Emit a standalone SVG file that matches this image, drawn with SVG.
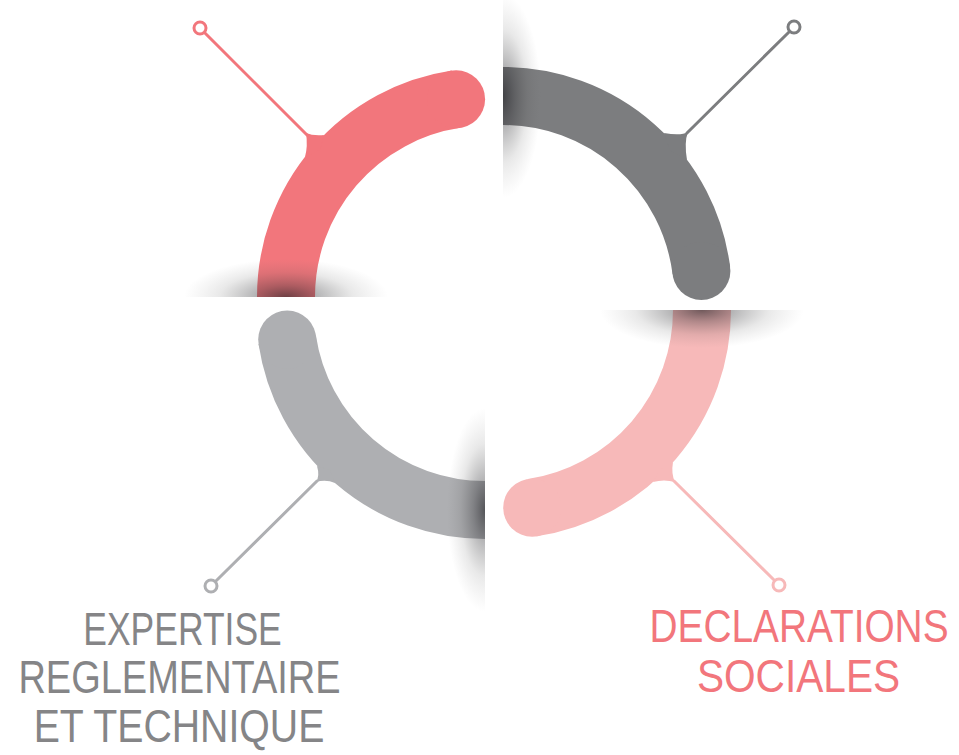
<svg xmlns="http://www.w3.org/2000/svg" width="959" height="755" viewBox="0 0 959 755">
  <defs>
    <radialGradient id="shade" cx="0.5" cy="0.5" r="0.5">
      <stop offset="0" stop-color="#1e1e22" stop-opacity="0.62"/>
      <stop offset="0.3" stop-color="#2a2a2e" stop-opacity="0.35"/>
      <stop offset="0.65" stop-color="#444" stop-opacity="0.12"/>
      <stop offset="1" stop-color="#666" stop-opacity="0"/>
    </radialGradient>
    <clipPath id="clipTL"><rect x="150" y="240" width="260" height="57"/></clipPath>
    <clipPath id="clipTR"><rect x="503" y="-20" width="60" height="240"/></clipPath>
    <clipPath id="clipBL"><rect x="420" y="400" width="65" height="220"/></clipPath>
    <clipPath id="clipBR"><rect x="590" y="310" width="240" height="60"/></clipPath>
  </defs>
  <style>
    .arc { fill: none; stroke-width: 58; stroke-linecap: butt; }
    .cline { fill: none; stroke-width: 3; stroke-linecap: round; }
    .dot { fill: #ffffff; stroke-width: 3; }
    .lbl { font-family: "Liberation Sans", Arial, sans-serif; font-size: 46px; text-anchor: middle; }
    .red { stroke: #F2767C; }
    .dark { stroke: #7C7D7F; }
    .light { stroke: #AEAFB2; }
    .pink { stroke: #F7B9B9; }
  </style>

  <g id="node-top-left">
    <path class="arc red" d="M 286 297 A 200 200 0 0 1 456.1 99.2"/>
    <circle cx="456.1" cy="99.2" r="29" fill="#F2767C"/>
    <path d="M 324 135 Q 313 136 306 133 Q 308 146 305 157 L 320 150 Z" fill="#F2767C"/>
    <ellipse cx="286" cy="297" rx="102" ry="38" fill="url(#shade)" clip-path="url(#clipTL)"/>
  </g>

  <g id="node-top-right">
    <path class="arc dark" d="M 503 96 A 200 200 0 0 1 701.4 270.9"/>
    <circle cx="701.4" cy="270.9" r="29" fill="#7C7D7F"/>
    <path d="M 664 133 Q 681 136 688 132 Q 684 142 687 160 L 670 150 Z" fill="#7C7D7F"/>
    <ellipse cx="503" cy="96" rx="38" ry="102" fill="url(#shade)" clip-path="url(#clipTR)"/>
  </g>

  <g id="node-bottom-left">
    <path class="arc light" d="M 287.2 339.6 A 200 200 0 0 0 485 510"/>
    <circle cx="287.2" cy="339.6" r="29" fill="#AEAFB2"/>
    <path d="M 317 466 Q 320 476 316 482 Q 326 479 335 483 L 330 470 Z" fill="#AEAFB2"/>
    <ellipse cx="485" cy="510" rx="38" ry="102" fill="url(#shade)" clip-path="url(#clipBL)"/>
    <g fill="#858587">
      <text class="lbl" transform="translate(182.5 645) scale(0.771 1)">EXPERTISE</text>
      <text class="lbl" transform="translate(179.5 693) scale(0.826 1)">REGLEMENTAIRE</text>
      <text class="lbl" transform="translate(179 742) scale(0.853 1)">ET TECHNIQUE</text>
    </g>
  </g>

  <g id="node-bottom-right">
    <path class="arc pink" d="M 702 310 A 200 200 0 0 1 532.2 507.7"/>
    <circle cx="532.2" cy="507.7" r="29" fill="#F7B9B9"/>
    <path d="M 673 462 Q 671 474 675 482 Q 664 479 653 482 L 660 470 Z" fill="#F7B9B9"/>
    <ellipse cx="702" cy="310" rx="102" ry="38" fill="url(#shade)" clip-path="url(#clipBR)"/>
    <g fill="#F2767C">
      <text class="lbl" transform="translate(799 642) scale(0.844 1)">DECLARATIONS</text>
      <text class="lbl" transform="translate(798.5 692) scale(0.883 1)">SOCIALES</text>
    </g>
  </g>

  <g id="connectors">
    <line class="cline red" x1="204.2" y1="32.2" x2="307" y2="135"/>
    <circle class="dot red" cx="200" cy="28" r="6"/>
    <line class="cline dark" x1="789.8" y1="31.2" x2="687" y2="133"/>
    <circle class="dot dark" cx="794" cy="27" r="6"/>
    <line class="cline light" x1="215.2" y1="581.8" x2="317" y2="481"/>
    <circle class="dot light" cx="211" cy="586" r="6"/>
    <line class="cline pink" x1="774.8" y1="580.8" x2="674" y2="481"/>
    <circle class="dot pink" cx="779" cy="585" r="6"/>
  </g>
</svg>
